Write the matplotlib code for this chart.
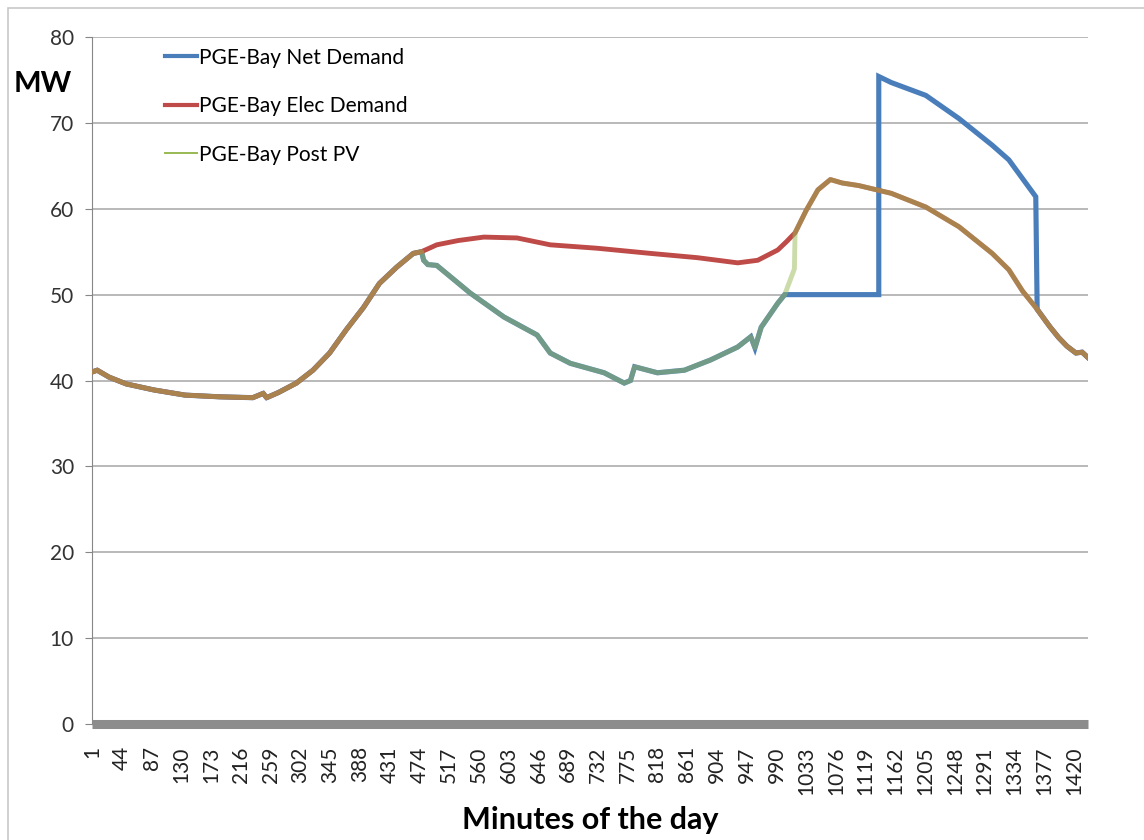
import matplotlib
matplotlib.use("Agg")
from matplotlib import pyplot as plt
from matplotlib.lines import Line2D
from matplotlib.patches import Rectangle

plt.rcParams["font.family"] = ["Lato", "DejaVu Sans"]

# elec demand over the whole day (minute, MW)
demand_min = [1, 8, 25, 50, 90, 135, 185, 233, 248, 253, 270, 296, 320, 344, 368,
              393, 416, 441, 465, 477, 499, 530, 567, 615, 663, 731, 808, 876,
              934, 963, 992, 1005, 1017, 1033, 1050, 1068, 1085, 1109, 1156, 1206,
              1254, 1302, 1326, 1346, 1365, 1385, 1398, 1410, 1423, 1432, 1440]
demand_mw = [41.0, 41.2, 40.4, 39.6, 38.9, 38.3, 38.1, 38.0, 38.5, 38.0, 38.6, 39.7,
             41.2, 43.2, 45.9, 48.5, 51.3, 53.2, 54.8, 55.0, 55.8, 56.3, 56.7, 56.6,
             55.8, 55.4, 54.8, 54.3, 53.7, 54.0, 55.2, 56.2, 57.2, 59.8, 62.2, 63.4,
             63.0, 62.7, 61.8, 60.2, 57.9, 54.8, 52.9, 50.4, 48.5, 46.3, 45.0, 44.0,
             43.2, 43.3, 42.7]

# post PV where it differs from demand
pv_min = [480, 486, 499, 547, 596, 644, 663, 692, 741, 770, 779, 785, 818, 857,
          895, 934, 953, 959, 968, 992, 1002, 1016, 1017]
pv_mw = [54.0, 53.5, 53.4, 50.2, 47.4, 45.3, 43.2, 42.0, 40.9, 39.7, 40.0, 41.6,
         40.9, 41.2, 42.4, 43.9, 45.1, 43.8, 46.2, 49.0, 50.0, 53.0, 57.2]

# net demand block after PV curve reaches 50 MW
net_min = [1002, 1138, 1138, 1156, 1206, 1254, 1302, 1326, 1365, 1367]
net_mw = [50.0, 50.0, 75.4, 74.7, 73.2, 70.5, 67.4, 65.7, 61.4, 48.3]

xticks = list(range(1, 1441, 43))
yticks = list(range(0, 81, 10))

# build full series
post_x = [m for m in demand_min if m <= 477] + pv_min + [m for m in demand_min if m > 1017]
post_y = [v for m, v in zip(demand_min, demand_mw) if m <= 477] + pv_mw + \
         [v for m, v in zip(demand_min, demand_mw) if m > 1017]
net_x = [m for m in post_x if m < 1002] + net_min + [m for m in demand_min if m > 1367]
net_y = [v for m, v in zip(post_x, post_y) if m < 1002] + net_mw + \
        [v for m, v in zip(demand_min, demand_mw) if m > 1367]

blue = "#4a7ebb"
red = "#be4b48"
green = "#98b954"

fig = plt.figure(figsize=(11.44, 8.4), dpi=100)
ax = fig.add_axes([92 / 1144, 1 - 724 / 840, (1088 - 92) / 1144, (724 - 37) / 840])

ax.plot(net_x, net_y, color=blue, lw=3.7, solid_joinstyle="miter", zorder=2)
ax.plot(demand_min, demand_mw, color=red, lw=3.5, zorder=3)
ax.plot(post_x, post_y, color=green, lw=3.5, alpha=0.5, zorder=4)

ax.set_xlim(0.5, 1440.5)
ax.set_ylim(0, 80)
ax.set_yticks(yticks)
ax.set_xticks(xticks)
ax.set_xticklabels([str(t) for t in xticks], rotation=90, fontsize=15)
ax.tick_params(axis="x", length=0, pad=16, labelcolor="#222222")
ax.tick_params(axis="y", length=5, color="#868686", labelsize=15, labelcolor="#333333", pad=8)
ax.yaxis.grid(True, color="#a6a6a6", lw=1.1)
ax.set_axisbelow(True)

for s in ["top", "right"]:
    ax.spines[s].set_visible(False)
ax.spines["left"].set_color("#868686")
ax.spines["bottom"].set_color("#8c8c8c")
ax.spines["bottom"].set_linewidth(6.5)
ax.spines["bottom"].set_capstyle("butt")
ax.spines["bottom"].set_zorder(5)

handles = [Line2D([], [], color=blue, lw=3),
           Line2D([], [], color=red, lw=3),
           Line2D([], [], color=green, lw=1.4)]
labels = ["PGE-Bay Net Demand", "PGE-Bay Elec Demand", "PGE-Bay Post PV"]
ax.legend(handles, labels, loc="upper left", bbox_to_anchor=(0.054, 1.012), frameon=False,
          fontsize=15, handlelength=1.55, handletextpad=0.1, labelspacing=1.37)

fig.text(43 / 1144, 1 - 84 / 840, "MW", fontsize=21, fontweight="bold", ha="center", va="center")
fig.text(590 / 1144, 1 - 820 / 840, "Minutes of the day", fontsize=22, fontweight="bold",
         ha="center", va="center")

fig.patches.append(Rectangle((8 / 1144, -0.1), 1.2, 1 - 8 / 840 + 0.1, transform=fig.transFigure,
                             fill=False, edgecolor="#c8c8c8", lw=1.2))

fig.savefig("out.png", dpi=100)
